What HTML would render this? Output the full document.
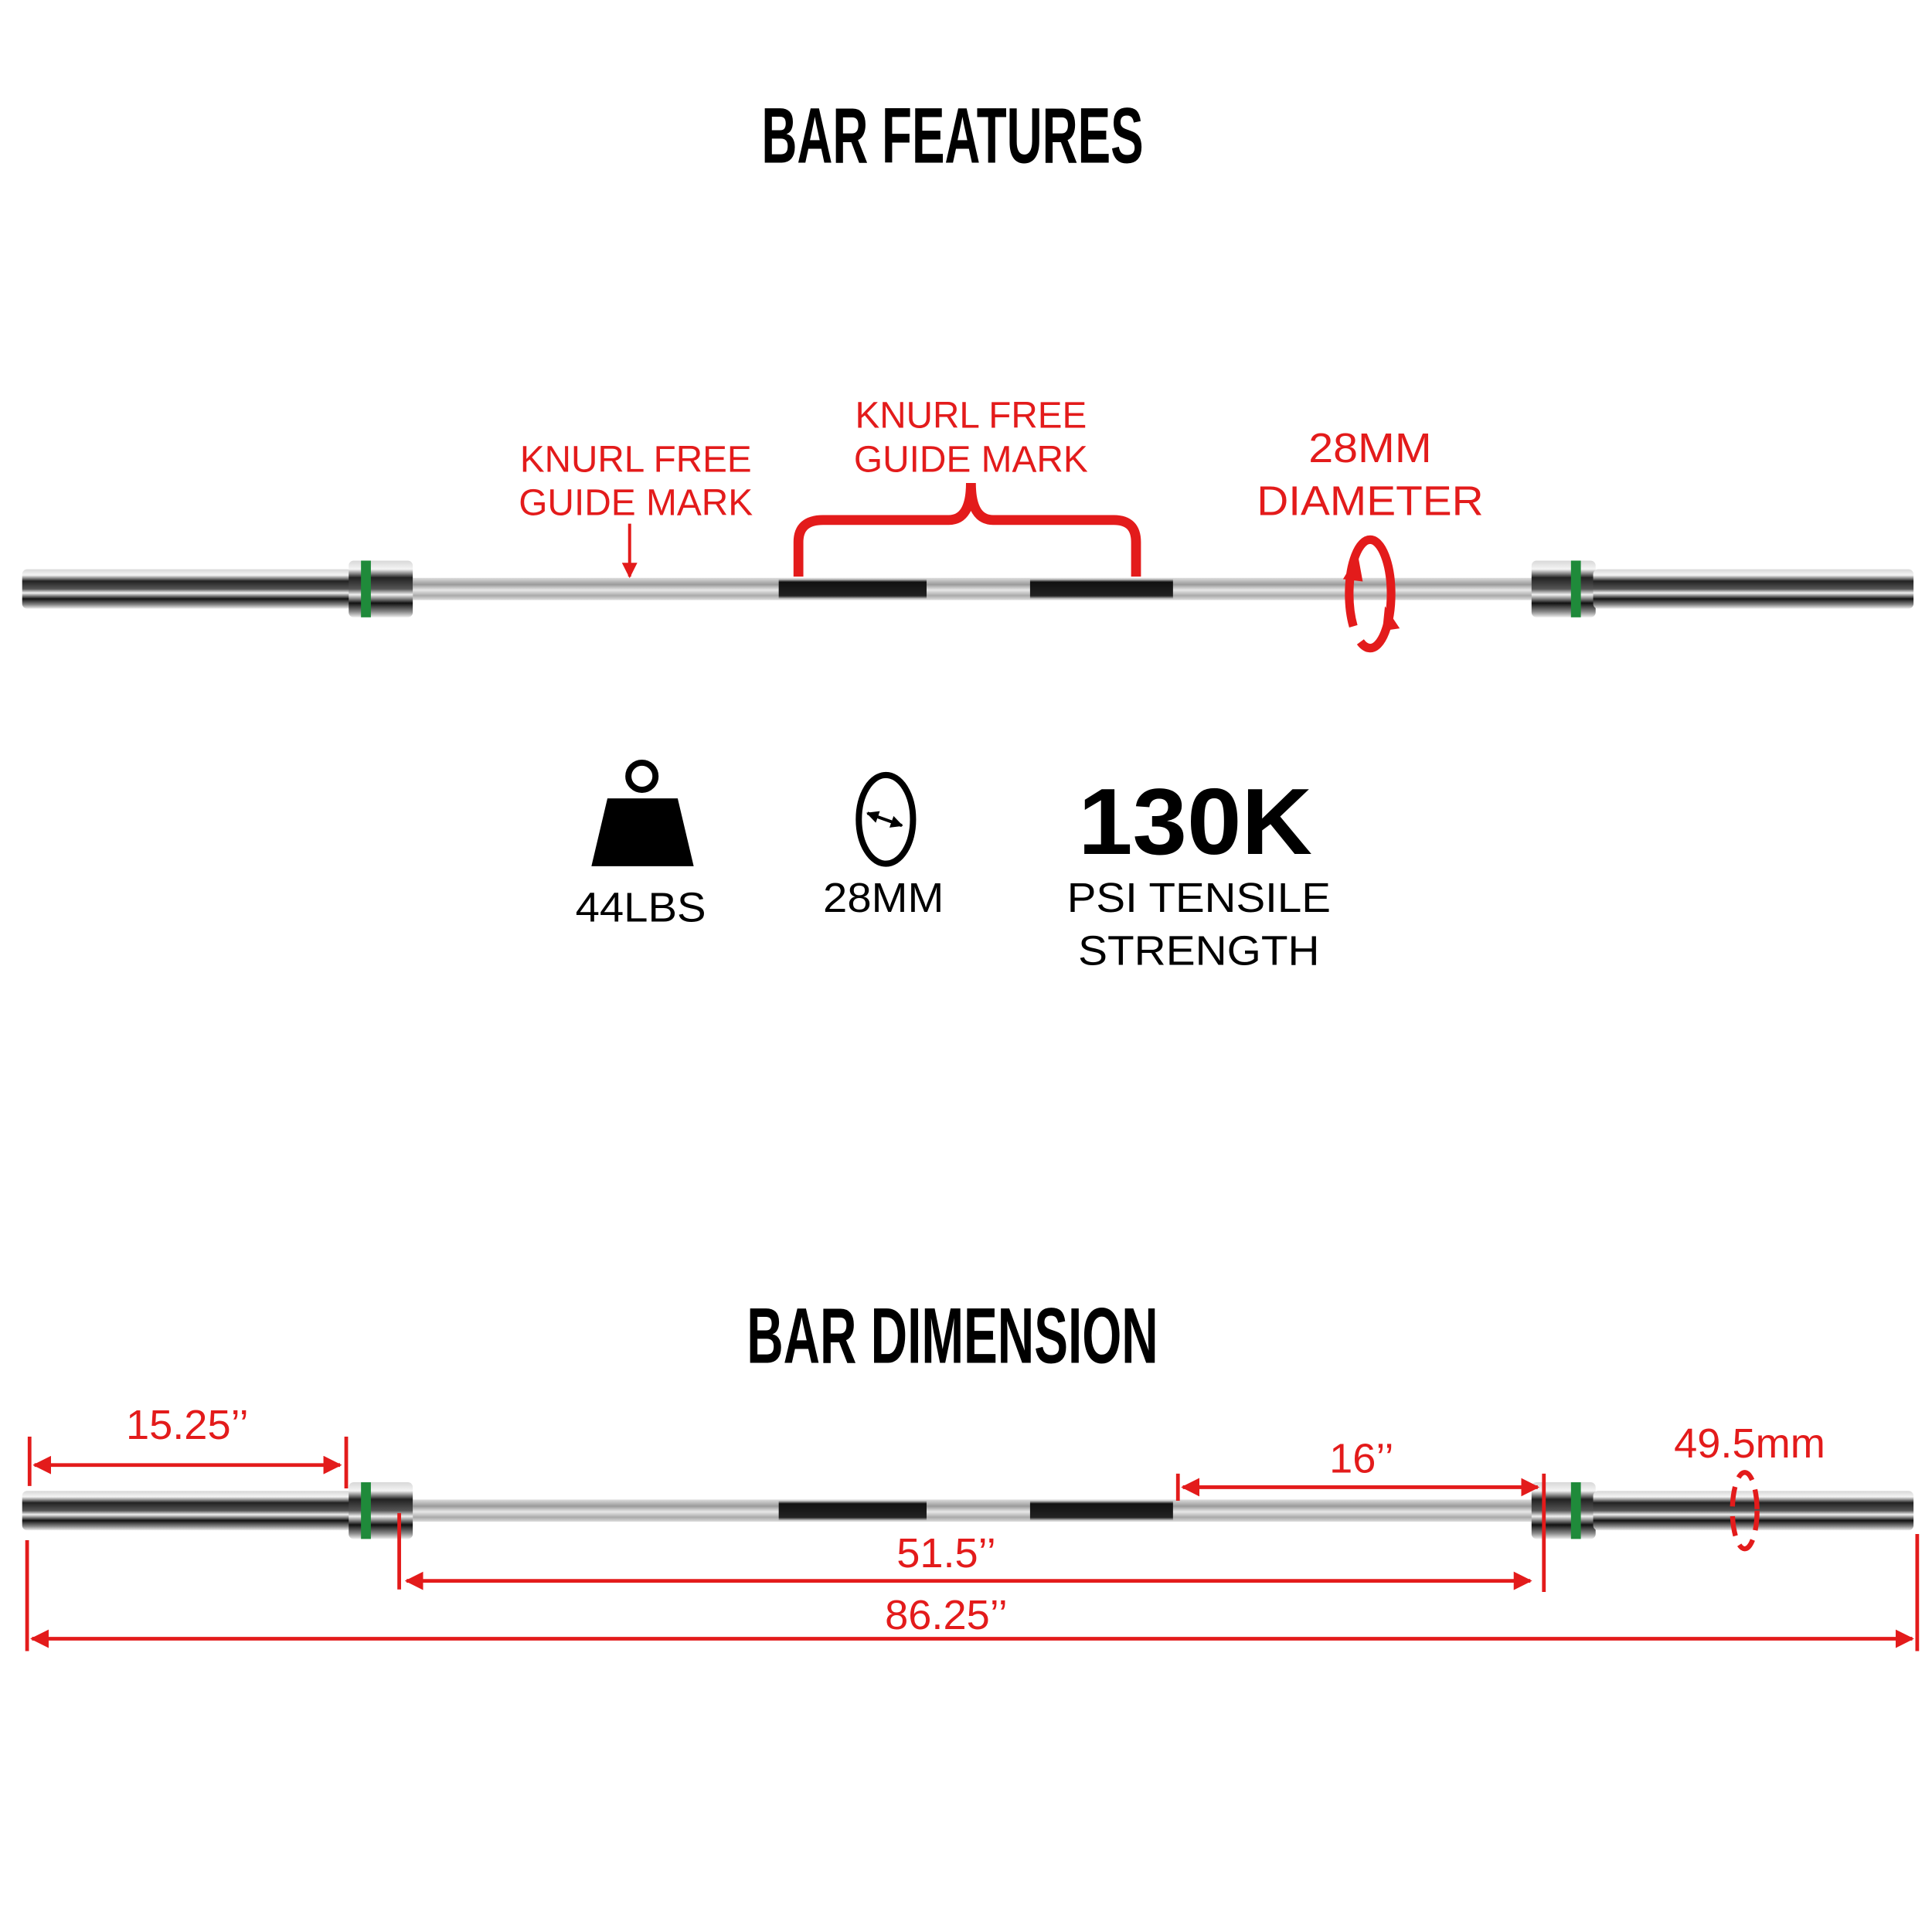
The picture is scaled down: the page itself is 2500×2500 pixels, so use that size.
<!DOCTYPE html>
<html><head><meta charset="utf-8"><style>html,body{margin:0;padding:0;background:#fff}svg{display:block}</style></head>
<body>
<svg width="2500" height="2500" viewBox="0 0 1568 1568" xmlns="http://www.w3.org/2000/svg" font-family="Liberation Sans, sans-serif">
<defs>
<linearGradient id="chrome" x1="0" y1="0" x2="0" y2="1">
<stop offset="0" stop-color="#d8d8d8"/><stop offset="0.15" stop-color="#f4f4f4"/><stop offset="0.3" stop-color="#222"/><stop offset="0.5" stop-color="#555"/><stop offset="0.6" stop-color="#f0f0f0"/><stop offset="0.75" stop-color="#111"/><stop offset="0.9" stop-color="#888"/><stop offset="1" stop-color="#eee"/>
</linearGradient>
<linearGradient id="shaft" x1="0" y1="0" x2="0" y2="1">
<stop offset="0" stop-color="#ddd"/><stop offset="0.3" stop-color="#9a9a9a"/><stop offset="0.55" stop-color="#e8e8e8"/><stop offset="0.8" stop-color="#aaa"/><stop offset="1" stop-color="#ddd"/>
</linearGradient>
<linearGradient id="black" x1="0" y1="0" x2="0" y2="1">
<stop offset="0" stop-color="#ccc"/><stop offset="0.15" stop-color="#111"/><stop offset="0.85" stop-color="#222"/><stop offset="1" stop-color="#ccc"/>
</linearGradient>
<g id="bar">
<rect x="18" y="-16" width="268" height="32" rx="4" fill="url(#chrome)"/>
<rect x="335" y="-9" width="910" height="18" fill="url(#shaft)"/>
<rect x="632" y="-8" width="120" height="16" fill="url(#black)"/>
<rect x="836" y="-8" width="116" height="16" fill="url(#black)"/>
<rect x="283" y="-23" width="52" height="46" rx="4" fill="url(#chrome)"/>
<rect x="293" y="-23" width="8" height="46" fill="#1f8a3a"/>
<rect x="1243" y="-23" width="52" height="46" rx="4" fill="url(#chrome)"/>
<rect x="1275" y="-23" width="8" height="46" fill="#1f8a3a"/>
<rect x="1293" y="-16" width="260" height="32" rx="4" fill="url(#chrome)"/>
</g>
<marker id="ah" viewBox="0 0 10 10" refX="9" refY="5" markerWidth="5" markerHeight="5" orient="auto-start-reverse"><path d="M0,0L10,5L0,10z" fill="#e31b1b"/></marker>
<marker id="bh" viewBox="0 0 10 10" refX="9" refY="5" markerWidth="4" markerHeight="4" orient="auto-start-reverse"><path d="M0,0L10,5L0,10z" fill="#000"/></marker>
</defs>
<rect width="1568" height="1568" fill="#fff"/>

<text x="773" y="132" font-size="64" font-weight="bold" text-anchor="middle" textLength="310" lengthAdjust="spacingAndGlyphs" fill="#000">BAR FEATURES</text>
<text x="773" y="1106" font-size="64" font-weight="bold" text-anchor="middle" textLength="334" lengthAdjust="spacingAndGlyphs" fill="#000">BAR DIMENSION</text>

<use href="#bar" y="478"/>
<use href="#bar" y="1226"/>

<g fill="#e31b1b" font-size="30" text-anchor="middle">
<text x="516" y="383" textLength="188" lengthAdjust="spacingAndGlyphs">KNURL FREE</text><text x="516" y="418" textLength="190" lengthAdjust="spacingAndGlyphs">GUIDE MARK</text>
<text x="788" y="347" textLength="188" lengthAdjust="spacingAndGlyphs">KNURL FREE</text><text x="788" y="383" textLength="190" lengthAdjust="spacingAndGlyphs">GUIDE MARK</text>
<text x="1112" y="375" font-size="34" textLength="100" lengthAdjust="spacingAndGlyphs">28MM</text><text x="1112" y="418" font-size="34" textLength="184" lengthAdjust="spacingAndGlyphs">DIAMETER</text>
</g>
<line x1="511" y1="425" x2="511" y2="468" stroke="#e31b1b" stroke-width="2.5" marker-end="url(#ah)"/>
<path d="M648,468 V440 Q648,422 668,422 H770 Q788,422 788,392 Q788,422 806,422 H904 Q922,422 922,440 V468" fill="none" stroke="#e31b1b" stroke-width="8"/>
<ellipse cx="1112" cy="482" rx="17" ry="44" fill="none" stroke="#e31b1b" stroke-width="7" stroke-dasharray="60 14 140 14" />
<path d="M1090,470 L1102,450 L1106,472z M1124,492 L1136,510 L1122,512z" fill="#e31b1b"/>

<path d="M493,648 H550 L563,703 H480z" fill="#000"/>
<circle cx="521" cy="630" r="11" fill="none" stroke="#000" stroke-width="5"/>
<text x="520" y="748" font-size="34" text-anchor="middle" textLength="106" lengthAdjust="spacingAndGlyphs">44LBS</text>
<ellipse cx="719" cy="665" rx="22" ry="36" fill="none" stroke="#000" stroke-width="5"/>
<line x1="704" y1="660" x2="732" y2="670" stroke="#000" stroke-width="2.5" marker-start="url(#bh)" marker-end="url(#bh)"/>
<text x="717" y="740" font-size="34" text-anchor="middle" textLength="98" lengthAdjust="spacingAndGlyphs">28MM</text>
<text x="970" y="693" font-size="76" font-weight="bold" text-anchor="middle" textLength="190" lengthAdjust="spacingAndGlyphs">130K</text>
<text x="973" y="740" font-size="34" text-anchor="middle" textLength="214" lengthAdjust="spacingAndGlyphs">PSI TENSILE</text>
<text x="973" y="783" font-size="34" text-anchor="middle" textLength="196" lengthAdjust="spacingAndGlyphs">STRENGTH</text>

<g stroke="#e31b1b" stroke-width="3" fill="none">
<line x1="24" y1="1166" x2="24" y2="1206"/><line x1="281" y1="1166" x2="281" y2="1208"/>
<line x1="28" y1="1189" x2="276" y2="1189" marker-start="url(#ah)" marker-end="url(#ah)"/>
<line x1="956" y1="1196" x2="956" y2="1218"/><line x1="1253" y1="1196" x2="1253" y2="1292"/>
<line x1="960" y1="1207" x2="1248" y2="1207" marker-start="url(#ah)" marker-end="url(#ah)"/>
<line x1="324" y1="1228" x2="324" y2="1290"/>
<line x1="330" y1="1283" x2="1242" y2="1283" marker-start="url(#ah)" marker-end="url(#ah)"/>
<line x1="22" y1="1250" x2="22" y2="1340"/><line x1="1556" y1="1245" x2="1556" y2="1340"/>
<line x1="26" y1="1330" x2="1552" y2="1330" marker-start="url(#ah)" marker-end="url(#ah)"/>
<ellipse cx="1416" cy="1226" rx="10" ry="31" stroke-width="4" stroke-dasharray="16 8"/>
</g>
<g fill="#e31b1b" font-size="34" text-anchor="middle">
<text x="152" y="1168">15.25’’</text>
<text x="1105" y="1195">16’’</text>
<text x="768" y="1272">51.5’’</text>
<text x="768" y="1322">86.25’’</text>
<text x="1420" y="1183">49.5mm</text>
</g>
</svg>
</body></html>
